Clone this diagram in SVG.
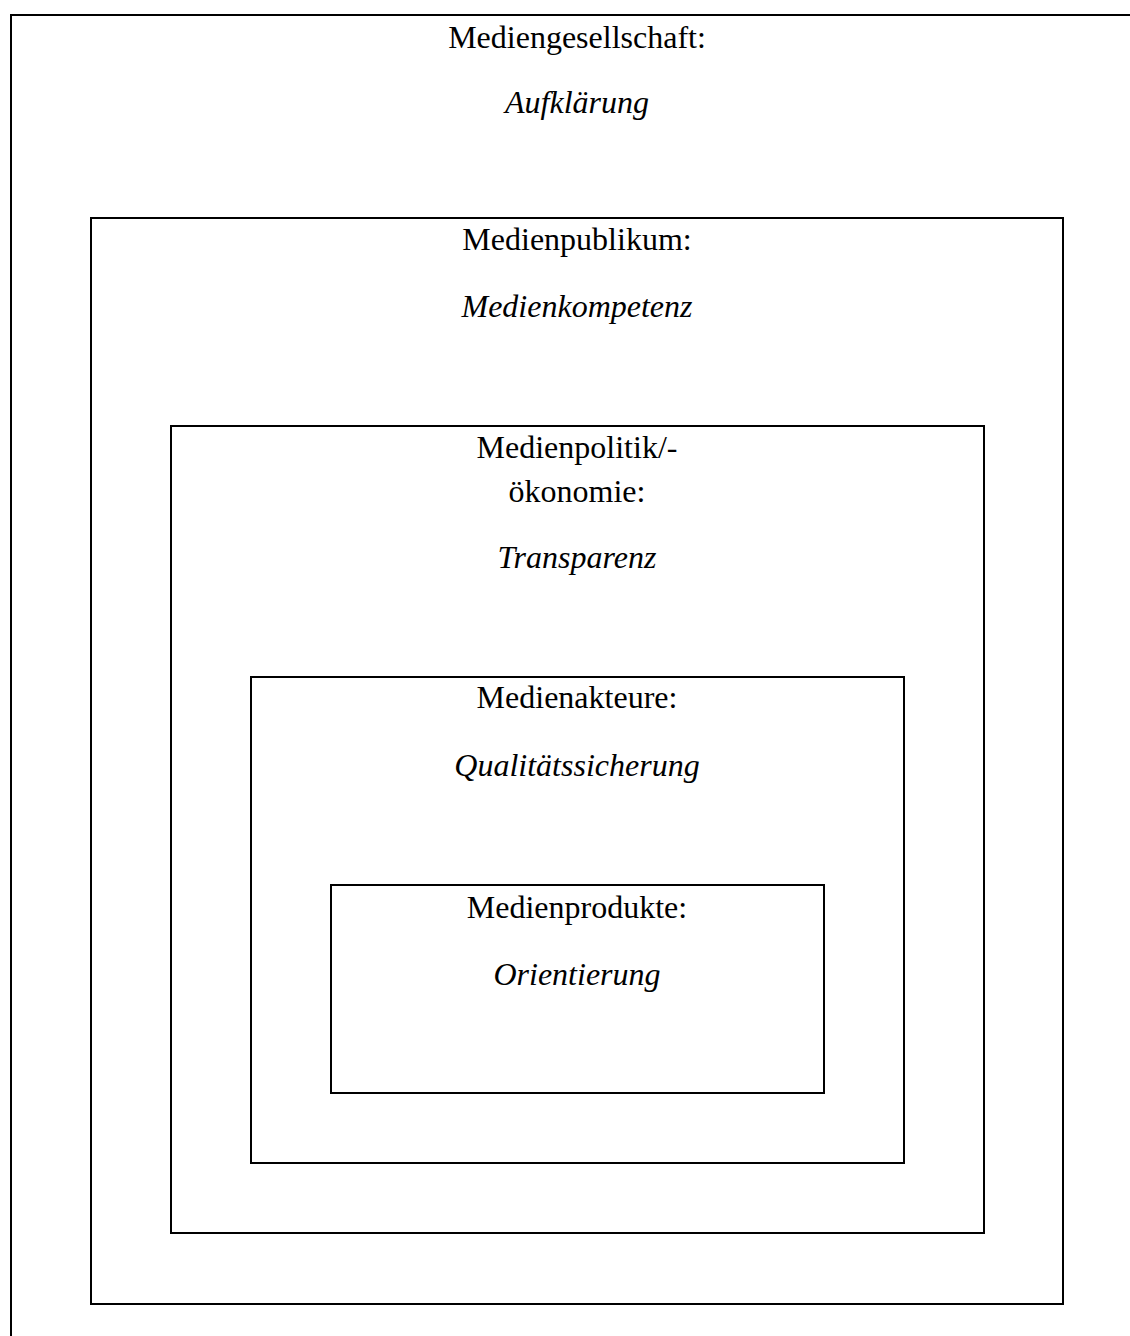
<svg xmlns="http://www.w3.org/2000/svg" width="1130" height="1336" viewBox="0 0 1130 1336">
<style>
.box{fill:none;stroke:#000;stroke-width:2}
.t{font-family:"Liberation Serif","Times New Roman",serif;font-size:32px;fill:#000;text-anchor:middle}
.i{font-style:italic}
</style>
<rect width="1130" height="1336" fill="#fff"/>
<g id="mediengesellschaft">
<rect class="box" x="11" y="15" width="1200" height="1400"/>
<text class="t" x="577" y="48">Mediengesellschaft:</text>
<text class="t i" x="577" y="113">Aufklärung</text>
</g>
<g id="medienpublikum">
<rect class="box" x="91" y="218" width="972" height="1086"/>
<text class="t" x="577" y="250">Medienpublikum:</text>
<text class="t i" x="577" y="317">Medienkompetenz</text>
</g>
<g id="medienpolitik">
<rect class="box" x="171" y="426" width="813" height="807"/>
<text class="t" x="577" y="458">Medienpolitik/-</text>
<text class="t" x="577" y="502">ökonomie:</text>
<text class="t i" x="577" y="568">Transparenz</text>
</g>
<g id="medienakteure">
<rect class="box" x="251" y="677" width="653" height="486"/>
<text class="t" x="577" y="708">Medienakteure:</text>
<text class="t i" x="577" y="776">Qualitätssicherung</text>
</g>
<g id="medienprodukte">
<rect class="box" x="331" y="885" width="493" height="208"/>
<text class="t" x="577" y="918">Medienprodukte:</text>
<text class="t i" x="577" y="985">Orientierung</text>
</g>
<g id="connectors"/>
</svg>
